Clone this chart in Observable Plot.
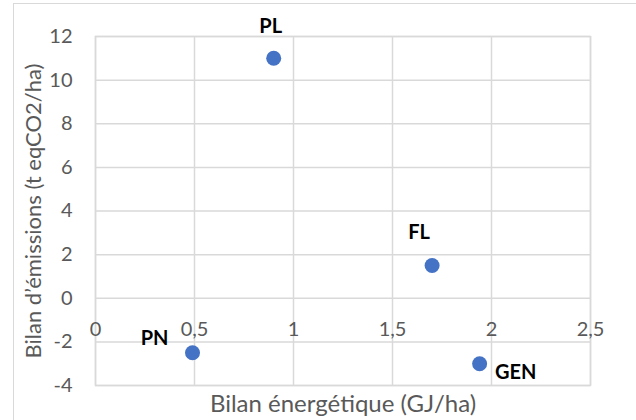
<!DOCTYPE html>
<html>
<head>
<meta charset="utf-8">
<script src="https://cdn.jsdelivr.net/npm/d3@7"></script>
<script src="https://cdn.jsdelivr.net/npm/@observablehq/plot@0.6"></script>
<style>
  html, body { margin: 0; padding: 0; background: #fff; }
  #wrap { position: relative; width: 636px; height: 420px; overflow: hidden; }
  #border { position: absolute; left: 13px; top: 3px; width: 640px; height: 440px; border: 1.5px solid #d9d9d9; box-sizing: border-box; pointer-events: none; }
  svg { font-family: Lato, "Open Sans", sans-serif; }
</style>
</head>
<body>
<div id="wrap"><div id="chart"></div><div id="border"></div></div>
<script>
const names = ["PL", "FL", "PN", "GEN"];
const energie = [0.9, 1.7, 0.49, 1.94];
const emissions = [11, 1.5, -2.5, -3];
const xTicks = [0, 0.5, 1, 1.5, 2, 2.5];
const xTickLabels = ["0", "0,5", "1", "1,5", "2", "2,5"];
const yTicks = [-4, -2, 0, 2, 4, 6, 8, 10, 12];
const xTitle = "Bilan énergétique (GJ/ha)";
const yTitle = "Bilan d\u2019émissions (t eqCO2/ha)";
const labelDx = [-3, -13, -38, 36];
const labelDy = [-32, -33, -14, 9];

const points = names.map((n, i) => ({name: n, x: energie[i], y: emissions[i]}));
const xt = xTicks.map((v, i) => ({v, label: xTickLabels[i]}));

const gray = "#595959";
const grid = "#d9d9d9";

const labelMarks = points.map((p, i) =>
  Plot.text([p], {x: "x", y: "y", text: "name", dx: labelDx[i], dy: labelDy[i], fontSize: 20, fontWeight: "bold", fill: "#000"})
);

const chart = Plot.plot({
  width: 636,
  height: 420,
  marginLeft: 95,
  marginRight: 46,
  marginTop: 36,
  marginBottom: 35,
  x: {domain: [0, 2.5]},
  y: {domain: [-4, 12]},
  style: {fontFamily: "Lato, 'Open Sans', sans-serif", background: "transparent"},
  marks: [
    Plot.gridX(xTicks, {stroke: grid, strokeOpacity: 1, strokeWidth: 1.5}),
    Plot.gridY(yTicks, {stroke: grid, strokeOpacity: 1, strokeWidth: 1.5}),
    Plot.frame({stroke: grid, strokeWidth: 1.5}),
    Plot.axisY(yTicks, {tickSize: 0, tickPadding: 23, fontSize: 20, fill: gray, tickFormat: d => String(d), label: null}),
    Plot.axisX({ticks: [], label: null, tickSize: 0}),
    Plot.text(xt, {x: "v", y: () => 0, text: "label", dy: 31, fontSize: 20, fill: gray}),
    Plot.text([yTitle], {frameAnchor: "left", textAnchor: "middle", dx: -62, rotate: -90, fontSize: 22, fill: gray, text: d => d}),
    Plot.text([xTitle], {frameAnchor: "bottom", textAnchor: "middle", dy: 26, fontSize: 24, fill: gray, text: d => d}),
    Plot.dot(points, {x: "x", y: "y", r: 7.5, fill: "#4472C4", stroke: "none"}),
    ...labelMarks
  ]
});
document.getElementById("chart").appendChild(chart);
</script>
</body>
</html>
